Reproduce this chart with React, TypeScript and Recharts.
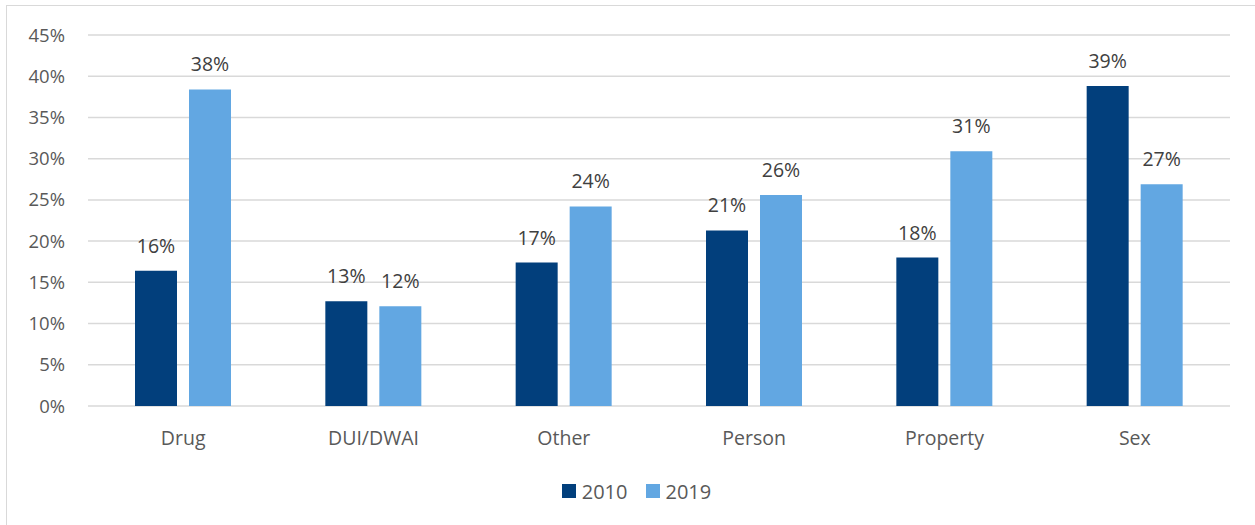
import { Bar, BarChart, CartesianGrid, LabelList, Legend, XAxis, YAxis } from "recharts";

const categories = ["Drug", "DUI/DWAI", "Other", "Person", "Property", "Sex"];
const values2010 = [16.4, 12.7, 17.4, 21.3, 18.0, 38.8];
const values2019 = [38.4, 12.1, 24.2, 25.6, 30.9, 26.9];
const yTicks = [0, 5, 10, 15, 20, 25, 30, 35, 40, 45];

const DARK = "#023f7c";
const LIGHT = "#62a7e2";
const FONT = "'Open Sans', sans-serif";

const data = categories.map((name, i) => ({
  name,
  y2010: values2010[i],
  y2019: values2019[i],
}));

const pct = (v: number) => `${Math.round(v)}%`;

function LegendBox() {
  const items = [
    { label: "2010", color: DARK },
    { label: "2019", color: LIGHT },
  ];
  return (
    <div
      style={{
        display: "flex",
        justifyContent: "center",
        alignItems: "center",
        gap: 18,
        height: 22,
        paddingLeft: 18,
        fontFamily: FONT,
        fontSize: 20,
        color: "#595959",
      }}
    >
      {items.map((it) => (
        <div key={it.label} style={{ display: "flex", alignItems: "center", gap: 6 }}>
          <span style={{ width: 14, height: 14, background: it.color, display: "inline-block" }} />
          <span>{it.label}</span>
        </div>
      ))}
    </div>
  );
}

export default function App() {
  return (
    <div
      style={{
        position: "absolute",
        left: 0,
        top: 0,
        width: 1255,
        height: 525,
        overflow: "hidden",
        background: "#fff",
      }}
    >
      <div
        style={{
          position: "absolute",
          left: 6,
          top: 5,
          width: 1400,
          height: 700,
          border: "1.5px solid #d9d9d9",
        }}
      />
      <div style={{ position: "absolute", left: 0, top: 0 }}>
        <BarChart
          width={1255}
          height={525}
          data={data}
          margin={{ top: 35, right: 25, left: 0, bottom: 79 }}
          barSize={42}
          barGap={12}
        >
          <CartesianGrid vertical={false} stroke="#d9d9d9" strokeWidth={1.5} />
          <XAxis
            dataKey="name"
            axisLine={false}
            tickLine={false}
            tickSize={0}
            tickMargin={25}
            height={40}
            tick={{ fill: "#595959", fontSize: 19.5, fontFamily: FONT }}
          />
          <YAxis
            domain={[0, 45]}
            ticks={yTicks}
            tickFormatter={(v: number) => `${v}%`}
            axisLine={false}
            tickLine={false}
            tickSize={0}
            tickMargin={23}
            width={88}
            tick={{ fill: "#595959", fontSize: 18.5, fontFamily: FONT }}
          />
          <Legend
            verticalAlign="middle"
            align="center"
            layout="horizontal"
            wrapperStyle={{ top: 480, left: 0, width: 1255 }}
            content={() => <LegendBox />}
          />
          <Bar dataKey="y2010" name="2010" fill={DARK} isAnimationActive={false}>
            <LabelList
              dataKey="y2010"
              position="top"
              offset={18}
              formatter={pct}
              style={{ fill: "#404040", fontSize: 19.5, fontFamily: FONT }}
            />
          </Bar>
          <Bar dataKey="y2019" name="2019" fill={LIGHT} isAnimationActive={false}>
            <LabelList
              dataKey="y2019"
              position="top"
              offset={18}
              formatter={pct}
              style={{ fill: "#404040", fontSize: 19.5, fontFamily: FONT }}
            />
          </Bar>
        </BarChart>
      </div>
    </div>
  );
}
